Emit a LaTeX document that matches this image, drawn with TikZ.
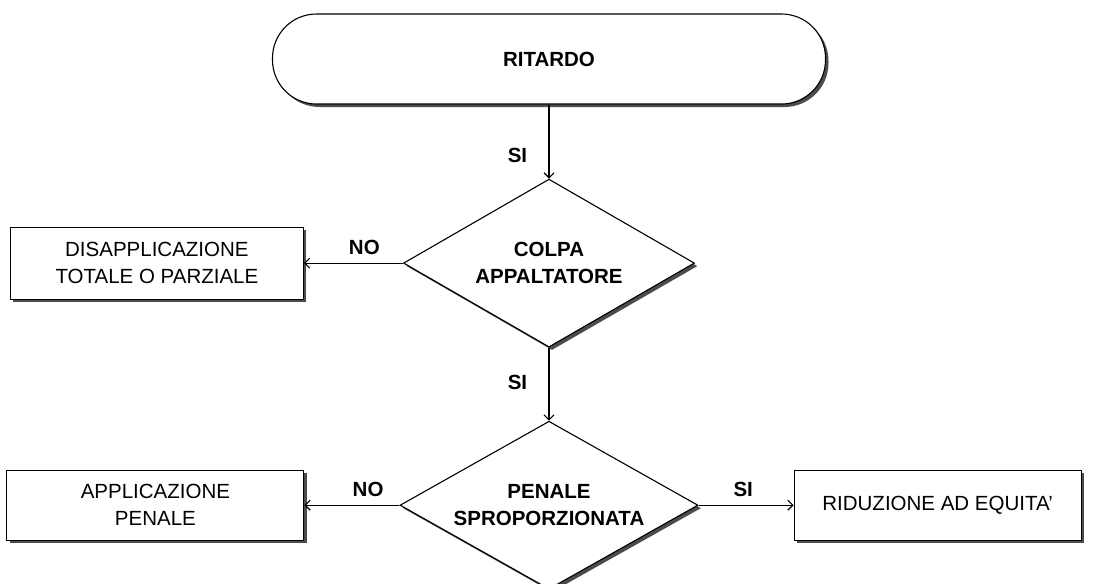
\documentclass[tikz,border=0pt]{standalone}
\usepackage{fontspec}
\setmainfont{Liberation Sans}
\usepackage{tikz}
\usetikzlibrary{shapes.geometric, arrows.meta, shadows, positioning}
\newcommand{\flowfont}{\fontsize{20.5}{27}\selectfont}
\tikzstyle{shade} = [drop shadow={shadow xshift=3pt, shadow yshift=-3pt, fill=black!70, opacity=1}]
\tikzstyle{terminal} = [rectangle, rounded corners=44pt, line width=1.1pt, minimum width=553pt, minimum height=90pt, text centered, draw=black, fill=white, shade, font=\flowfont\bfseries]
\tikzstyle{decision} = [diamond, aspect=1.73, line width=1.1pt, inner sep=0pt, minimum width=291pt, minimum height=168pt, text centered, align=center, draw=black, fill=white, shade, font=\flowfont\bfseries]
\tikzstyle{block} = [rectangle, line width=1.1pt, minimum height=72pt, align=center, draw=black, fill=white, shade, font=\flowfont]
\tikzstyle{arrow} = [line width=1.1pt, -{Straight Barb[length=5pt, width=10pt]}]
\tikzstyle{answer} = [font=\flowfont\bfseries]

\begin{document}
\begin{tikzpicture}[x=1pt, y=-1pt, node distance = 10mm]
		\useasboundingbox (0,0) rectangle (1096,584);
		\node (Ritardo) [terminal] at (549,59) {RITARDO};
		\node (Colpa) [decision, below = 74pt of Ritardo] {COLPA\\APPALTATORE};
		\node (Disapplicazione) [block, minimum width=293pt, left = 99pt of Colpa] {DISAPPLICAZIONE\\TOTALE O PARZIALE};
		\node (Penale) [decision, minimum width=298pt, below = 73pt of Colpa] {PENALE\\SPROPORZIONATA};
		\node (Applicazione) [block, minimum width=297pt, minimum height=70pt, left = 95pt of Penale] {APPLICAZIONE\\PENALE};
		\node (Riduzione) [block, minimum width=287pt, minimum height=70pt, right = 95pt of Penale] {RIDUZIONE AD EQUITA'};
		\draw [arrow] (Ritardo) -- node[answer, pos=0.69, left=18pt] {SI} (Colpa);
		\draw [arrow] (Colpa) -- node[answer, pos=0.39, above=5pt] {NO} (Disapplicazione);
		\draw [arrow] (Colpa) -- node[answer, pos=0.48, left=18pt] {SI} (Penale);
		\draw [arrow] (Penale) -- node[answer, pos=0.33, above=5pt] {NO} (Applicazione);
		\draw [arrow] (Penale) -- node[answer, pos=0.47, above=5pt] {SI} (Riduzione);
		\end{tikzpicture}
\end{document}
